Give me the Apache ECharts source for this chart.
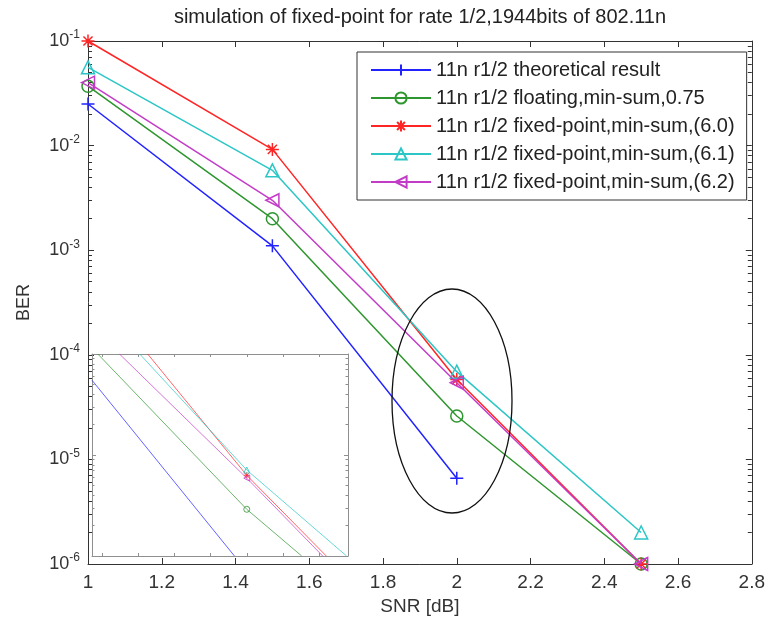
<!DOCTYPE html>
<html><head><meta charset="utf-8">
<script src="https://cdn.jsdelivr.net/npm/echarts@6/dist/echarts.min.js"></script>
<style>
html,body{margin:0;padding:0;background:#fff}
#wrap{position:relative;width:768px;height:623px}
#c{position:absolute;left:0;top:0;width:768px;height:623px}
#inset{position:absolute;left:91px;top:353px;width:258px;height:204px}
</style>
</head><body><div id="wrap"><div id="c"></div><div id="inset"></div></div>
<script>
// ---------- data ----------
const titleText = 'simulation of fixed-point for rate 1/2,1944bits of 802.11n';
const xName = 'SNR [dB]';
const yName = 'BER';
const seriesNames = [
  '11n r1/2 theoretical result',
  '11n r1/2 floating,min-sum,0.75',
  '11n r1/2 fixed-point,min-sum,(6.0)',
  '11n r1/2 fixed-point,min-sum,(6.1)',
  '11n r1/2 fixed-point,min-sum,(6.2)'
];
const snr = [1.0, 1.5, 2.0, 2.5];
const berTheory  = [2.5e-2, 1.1e-3, 6.6e-6];
const berFloat   = [3.7e-2, 2.0e-3, 2.6e-5, 1.0e-6];
const berFixed60 = [1.0e-1, 9.2e-3, 5.8e-5, 1.0e-6];
const berFixed61 = [5.6e-2, 5.8e-3, 6.9e-5, 2.0e-6];
const berFixed62 = [4.0e-2, 3.0e-3, 5.4e-5, 1.0e-6];

const xMin = 1, xMax = 2.8, xStep = 0.2;
const yExponents = [-6, -5, -4, -3, -2, -1];

// inset (magnified view) data
const insetTheoryX  = [1.786, 1.983];
const insetTheoryY  = [5.5e-4, 1.0e-5];
const insetFloatX   = [1.794, 2.0, 2.076];
const insetFloatY   = [1.0e-3, 2.9e-5, 1.0e-5];
const insetFixed60X = [1.863, 2.0, 2.110];
const insetFixed60Y = [1.0e-3, 6.3e-5, 1.0e-5];
const insetFixed61X = [1.852, 2.0, 2.138];
const insetFixed61Y = [1.0e-3, 7.1e-5, 1.0e-5];
const insetFixed62X = [1.824, 2.0, 2.105];
const insetFixed62Y = [1.0e-3, 5.9e-5, 1.0e-5];
const insetMarkX = 2.0;
const insetXMin = 1.786, insetXMax = 2.14;
const insetXTicks = [1.8, 1.85, 1.9, 1.95, 2.0, 2.05, 2.1];
const insetYExponents = [-5, -4, -3];

// ---------- styling ----------
const FONT = '"Liberation Sans", Arial, sans-serif';
const colors = ['#2222ff', '#2e962e', '#ff2525', '#2cc6c6', '#c33cc8'];
const symPlus = 'path://M0,6 L12,6 M6,0 L6,12';
const symStar = 'path://M0,6 L12,6 M6,0 L6,12 M1.8,1.8 L10.2,10.2 M10.2,1.8 L1.8,10.2';
const symTri = 'path://M6,0 L12,11 L0,11 Z';
const symLeftTri = 'path://M0,6 L11,0 L11,12 Z';
const symbols = [symPlus, 'circle', symStar, symTri, symLeftTri];

function zip(xs, ys) { return ys.map((y, i) => [xs[i], y]); }
function minorLog(exps) {
  const out = [];
  for (let k = exps[0]; k < exps[exps.length - 1]; k++) {
    for (let m = 2; m <= 9; m++) out.push(Math.log10(m) + k);
  }
  return out;
}

const mainData = [berTheory, berFloat, berFixed60, berFixed61, berFixed62];
const insetData = [
  zip(insetTheoryX, insetTheoryY), zip(insetFloatX, insetFloatY),
  zip(insetFixed60X, insetFixed60Y), zip(insetFixed61X, insetFixed61Y),
  zip(insetFixed62X, insetFixed62Y)
];

const axisColor = '#333';
const insetColor = '#8f8f8f';

function tickAxis(extra) {
  return Object.assign({
    axisLine: { show: false, onZero: false },
    axisLabel: { show: false },
    splitLine: { show: false }
  }, extra);
}

// ---------- main chart ----------
const mainSeries = mainData.map((d, i) => ({
  name: seriesNames[i], type: 'line',
  data: zip(snr, d), color: colors[i],
  symbol: symbols[i], symbolSize: i === 1 ? 12 : 13, showAllSymbol: true,
  lineStyle: { color: colors[i], width: 1.5 },
  itemStyle: { color: 'rgba(255,255,255,0)', borderColor: colors[i], borderWidth: 1.5 },
  clip: false, z: 3 + i
}));

const yMinV = Math.pow(10, yExponents[0]);
const yMaxV = Math.pow(10, yExponents[yExponents.length - 1]);

const mainOption = {
  animation: false,
  backgroundColor: '#fff',
  textStyle: { fontFamily: FONT },
  title: {
    text: titleText, left: 415, top: 2, textAlign: 'center',
    textStyle: { fontFamily: FONT, fontSize: 20, fontWeight: 'normal', color: '#222' }
  },
  legend: {
    data: seriesNames, orient: 'vertical', left: 357, top: 52,
    itemWidth: 60, itemHeight: 14, itemGap: 8,
    padding: [8, 12, 8, 13],
    backgroundColor: '#fff', borderColor: '#333', borderWidth: 1,
    textStyle: { fontFamily: FONT, fontSize: 20, lineHeight: 20, color: '#222' }
  },
  grid: { left: 88, right: 12, top: 41, bottom: 59 },
  xAxis: [
    { type: 'value', position: 'bottom', min: xMin, max: xMax, interval: xStep,
      axisLine: { show: true, onZero: false, lineStyle: { color: axisColor, width: 1 } },
      axisTick: { show: true, inside: true, length: 6, lineStyle: { color: axisColor } },
      axisLabel: { fontFamily: FONT, fontSize: 19, color: '#333', margin: 9 },
      splitLine: { show: false },
      name: xName, nameLocation: 'middle', nameGap: 32,
      nameTextStyle: { fontFamily: FONT, fontSize: 19, color: '#333' } },
    { type: 'value', position: 'top', min: xMin, max: xMax, interval: xStep,
      axisLine: { show: true, onZero: false, lineStyle: { color: axisColor, width: 1 } },
      axisTick: { show: true, inside: true, length: 6, lineStyle: { color: axisColor } },
      axisLabel: { show: false }, splitLine: { show: false } }
  ],
  yAxis: [
    { type: 'log', logBase: 10, position: 'left', min: yMinV, max: yMaxV,
      axisLine: { show: true, onZero: false, lineStyle: { color: axisColor, width: 1 } },
      axisTick: { show: true, inside: true, length: 6, lineStyle: { color: axisColor } },
      axisLabel: {
        margin: 8, color: '#333',
        formatter: v => '{b|10}{s|' + Math.round(Math.log10(v)) + '}',
        rich: {
          b: { fontFamily: FONT, fontSize: 18, lineHeight: 24, color: '#333' },
          s: { fontFamily: FONT, fontSize: 12, lineHeight: 14, verticalAlign: 'top', color: '#333' }
        }
      },
      splitLine: { show: false },
      name: yName, nameLocation: 'middle', nameGap: 55, nameRotate: 90,
      nameTextStyle: { fontFamily: FONT, fontSize: 18, color: '#333' } },
    { type: 'log', logBase: 10, position: 'right', min: yMinV, max: yMaxV,
      axisLine: { show: true, onZero: false, lineStyle: { color: axisColor, width: 1 } },
      axisTick: { show: true, inside: true, length: 6, lineStyle: { color: axisColor } },
      axisLabel: { show: false }, splitLine: { show: false } },
    tickAxis({ type: 'value', position: 'left', min: yExponents[0], max: yExponents[yExponents.length - 1],
      axisTick: { show: true, inside: true, length: 4, customValues: minorLog(yExponents), lineStyle: { color: axisColor } } }),
    tickAxis({ type: 'value', position: 'right', min: yExponents[0], max: yExponents[yExponents.length - 1],
      axisTick: { show: true, inside: true, length: 4, customValues: minorLog(yExponents), lineStyle: { color: axisColor } } })
  ],
  graphic: [
    { type: 'ellipse', shape: { cx: 452, cy: 401, rx: 60, ry: 112 },
      style: { fill: 'none', stroke: '#111', lineWidth: 1.3 }, z: 10 }
  ],
  series: mainSeries
};

// ---------- inset chart (separate instance over the lower-left corner) ----------
const insetSeries = insetData.map((d, i) => ({
  name: 'inset' + i, type: 'line',
  data: d, color: colors[i],
  symbol: symbols[i],
  symbolSize: (v) => (v[0] === insetMarkX ? 6 : 0),
  lineStyle: { color: colors[i], width: 1, opacity: 0.7 },
  itemStyle: { color: 'rgba(255,255,255,0)', borderColor: colors[i], borderWidth: 1, opacity: 0.8 },
  clip: true, z: 3
}));

const iyMin = Math.pow(10, insetYExponents[0]);
const iyMax = Math.pow(10, insetYExponents[insetYExponents.length - 1]);
const insetLine = { show: true, onZero: false, lineStyle: { color: insetColor, width: 1 } };

const insetOption = {
  animation: false,
  grid: { left: 1, right: 1, top: 1, bottom: 1 },
  xAxis: [
    tickAxis({ type: 'value', position: 'bottom', min: insetXMin, max: insetXMax, axisLine: insetLine,
      axisTick: { show: true, inside: true, length: 3, customValues: insetXTicks, lineStyle: { color: insetColor } } }),
    tickAxis({ type: 'value', position: 'top', min: insetXMin, max: insetXMax, axisLine: insetLine,
      axisTick: { show: true, inside: true, length: 3, customValues: insetXTicks, lineStyle: { color: insetColor } } })
  ],
  yAxis: [
    tickAxis({ type: 'log', logBase: 10, position: 'left', min: iyMin, max: iyMax, axisLine: insetLine,
      axisTick: { show: true, inside: true, length: 4, lineStyle: { color: insetColor } } }),
    tickAxis({ type: 'log', logBase: 10, position: 'right', min: iyMin, max: iyMax, axisLine: insetLine,
      axisTick: { show: true, inside: true, length: 4, lineStyle: { color: insetColor } } }),
    tickAxis({ type: 'value', position: 'left', min: insetYExponents[0], max: insetYExponents[insetYExponents.length - 1],
      axisTick: { show: true, inside: true, length: 2.5, customValues: minorLog(insetYExponents), lineStyle: { color: insetColor } } }),
    tickAxis({ type: 'value', position: 'right', min: insetYExponents[0], max: insetYExponents[insetYExponents.length - 1],
      axisTick: { show: true, inside: true, length: 2.5, customValues: minorLog(insetYExponents), lineStyle: { color: insetColor } } })
  ],
  series: insetSeries
};

echarts.init(document.getElementById('c'), null, { renderer: 'canvas' }).setOption(mainOption);
echarts.init(document.getElementById('inset'), null, { renderer: 'canvas' }).setOption(insetOption);
</script>
</body></html>
